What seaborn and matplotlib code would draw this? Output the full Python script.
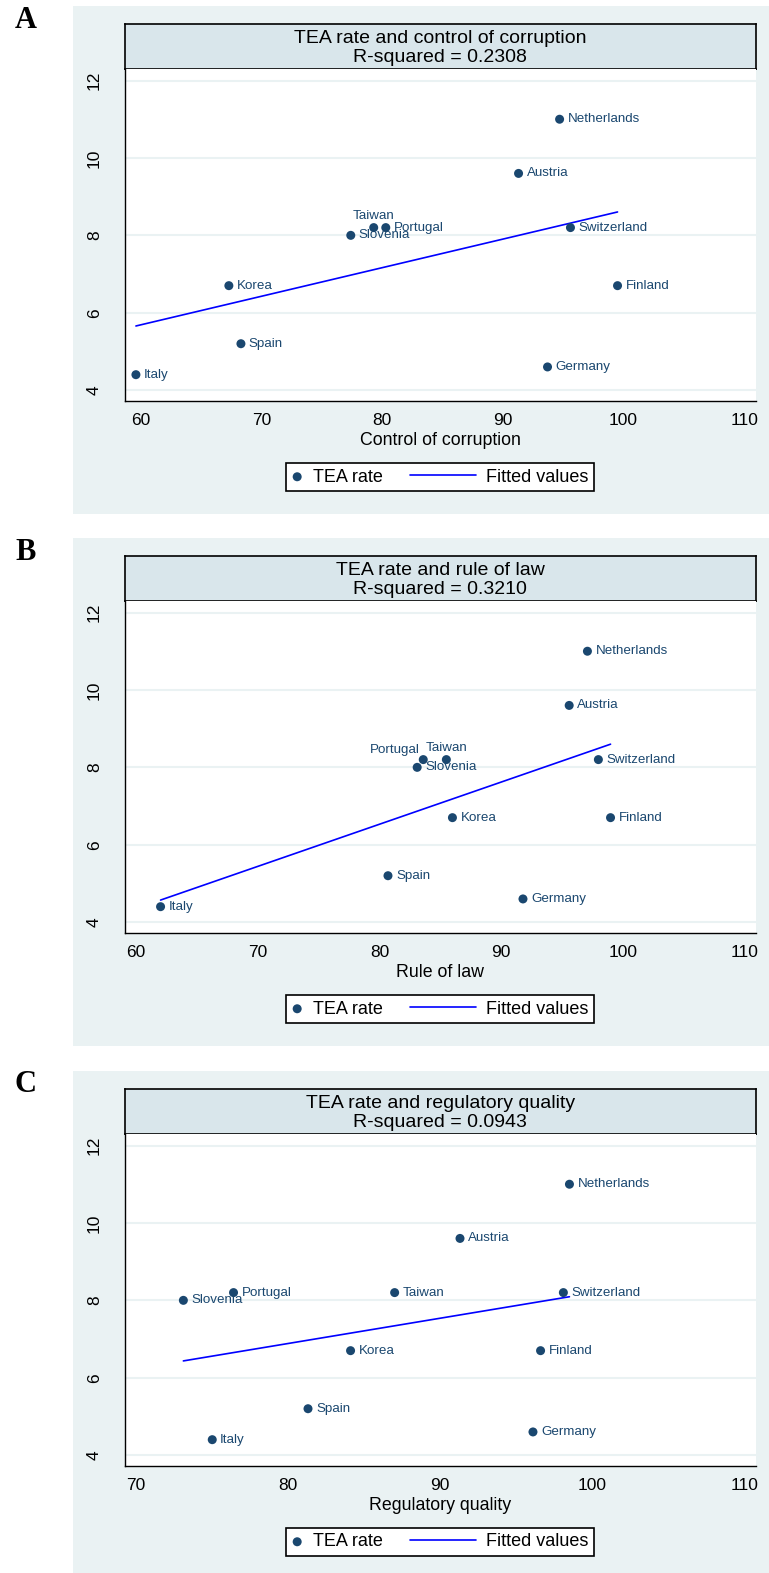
import numpy as np
import pandas as pd
import matplotlib.pyplot as plt
import seaborn as sns
from matplotlib.lines import Line2D
from matplotlib.patches import Rectangle
from matplotlib.legend_handler import HandlerLine2D

# data
countries = ["Netherlands", "Austria", "Taiwan", "Portugal", "Slovenia", "Switzerland",
             "Korea", "Finland", "Spain", "Germany", "Italy"]
tea_rate = [11.0, 9.6, 8.2, 8.2, 8.0, 8.2, 6.7, 6.7, 5.2, 4.6, 4.4]
control_corruption = [94.7, 91.3, 79.3, 80.3, 77.4, 95.6, 67.3, 99.5, 68.3, 93.7, 59.6]
rule_of_law = [97.1, 95.6, 85.5, 83.6, 83.1, 98.0, 86.0, 99.0, 80.7, 91.8, 62.0]
regulatory_quality = [98.5, 91.3, 87.0, 76.4, 73.1, 98.1, 84.1, 96.6, 81.3, 96.1, 75.0]

titles = ["TEA rate and control of corruption", "TEA rate and rule of law",
          "TEA rate and regulatory quality"]
r_squared = ["R-squared = 0.2308", "R-squared = 0.3210", "R-squared = 0.0943"]
x_labels = ["Control of corruption", "Rule of law", "Regulatory quality"]
panel_letters = ["A", "B", "C"]
x_ticks = [[60, 70, 80, 90, 100, 110], [60, 70, 80, 90, 100, 110], [70, 80, 90, 100, 110]]
y_ticks = [4, 6, 8, 10, 12]

BG = "#EAF2F3"
TITLE_BG = "#D9E6EB"
NAVY = "#1A476F"

W, H = 769, 1573


class FitLineHandler(HandlerLine2D):
    # stretch the fitted-line legend key to the left, like Stata does
    def get_xdata(self, legend, xdescent, ydescent, width, height, fontsize):
        xdata = [-xdescent - 3.0 * fontsize, -xdescent + width]
        return xdata, [xdata[-1]]


def box(x0, y0, x1, y1):
    return [x0 / W, 1 - y1 / H, (x1 - x0) / W, (y1 - y0) / H]


sns.set_style("white")
plt.rcParams["font.family"] = ["Liberation Sans", "DejaVu Sans"]
plt.rcParams["text.color"] = "black"
plt.rcParams["axes.labelcolor"] = "black"
plt.rcParams["xtick.color"] = "black"
plt.rcParams["ytick.color"] = "black"

fig = plt.figure(figsize=(W / 100, H / 100), dpi=100)

panel_tops = [6, 538, 1071]
x_limits = [(58.72, 110.93), (59.10, 110.92), (69.28, 110.74)]
label_pos = [{"Taiwan": "top"}, {"Portugal": "topleft", "Taiwan": "top"}, {}]
x_values = [control_corruption, rule_of_law, regulatory_quality]

for i in range(3):
    top = panel_tops[i]
    fig.add_artist(Rectangle((73.3 / W, 1 - (top + 508) / H), (W - 73.3) / W, 508 / H,
                             transform=fig.transFigure, facecolor=BG, edgecolor="none", zorder=0))
    fig.text(26 / W, 1 - (top + 14) / H, panel_letters[i], family="Liberation Serif",
             weight="bold", fontsize=22, ha="center", va="center", color="black")

    # title band
    ax_t = fig.add_axes(box(125.3, top + 18.3, 755.5, top + 63.3))
    ax_t.set_facecolor(TITLE_BG)
    ax_t.set_xticks([])
    ax_t.set_yticks([])
    for sp in ax_t.spines.values():
        sp.set_color("black")
        sp.set_linewidth(1.2)
    ax_t.text(0.5, 0.69, titles[i], ha="center", va="center", fontsize=14)
    ax_t.text(0.5, 0.27, r_squared[i], ha="center", va="center", fontsize=14)

    ax = fig.add_axes(box(125.3, top + 63.3, 755.5, top + 395))
    ax.set_facecolor("white")
    df = pd.DataFrame({"x": x_values[i], "tea": tea_rate, "country": countries})

    sns.scatterplot(data=df, x="x", y="tea", ax=ax, color=NAVY, s=42,
                    edgecolor="none", label="TEA rate", zorder=3)
    sns.regplot(data=df, x="x", y="tea", ax=ax, scatter=False, ci=None, truncate=True,
                color="blue", line_kws={"lw": 1.2}, label="Fitted values")

    for _, row in df.iterrows():
        pos = label_pos[i].get(row["country"], "right")
        if pos == "top":
            off, ha = (0, 12), "center"
        elif pos == "topleft":
            off, ha = (-4, 10), "right"
        else:
            off, ha = (8, 0), "left"
        ax.annotate(row["country"], (row["x"], row["tea"]), xytext=off,
                    textcoords="offset pixels", ha=ha, va="center",
                    fontsize=9.6, color=NAVY)

    ax.set_xlim(*x_limits[i])
    ax.set_ylim(3.72, 12.29)
    ax.set_xticks(x_ticks[i])
    ax.set_yticks(y_ticks)
    ax.yaxis.grid(True, color=BG, linewidth=1.5)
    ax.xaxis.grid(False)
    ax.set_axisbelow(True)
    ax.set_ylabel("")
    ax.set_xlabel(x_labels[i], fontsize=12.8, labelpad=3)
    ax.tick_params(axis="x", labelsize=12.5, length=4.3, width=1, color="black", pad=4, direction="out")
    ax.tick_params(axis="y", labelsize=12.5, length=4.3, width=1, color="black", pad=12.5,
                   labelrotation=90, direction="out")
    for lab in ax.get_yticklabels():
        lab.set_va("center")
    sns.despine(ax=ax)
    for side in ["left", "bottom"]:
        ax.spines[side].set_color("black")
        ax.spines[side].set_linewidth(1)

    handles, labels = ax.get_legend_handles_labels()
    leg = ax.legend(handles, labels, loc="center",
                    bbox_to_anchor=(440 / W, 1 - (top + 471) / H),
                    bbox_transform=fig.transFigure, ncol=2, fontsize=13,
                    frameon=True, fancybox=False, edgecolor="black", framealpha=1,
                    borderpad=0.3, handlelength=0.62, handletextpad=0.58,
                    columnspacing=4.5, scatterpoints=1,
                    handler_map={Line2D: FitLineHandler()})
    leg.get_frame().set_linewidth(1.2)

fig.savefig("out.png", dpi=100)
